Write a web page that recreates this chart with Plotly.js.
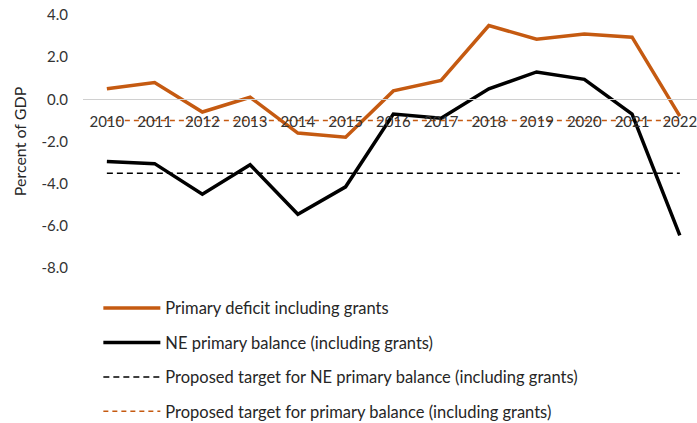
<!DOCTYPE html>
<html><head><meta charset="utf-8">
<script src="https://cdn.plot.ly/plotly-3.0.1.min.js"></script>
<style>html,body{margin:0;padding:0;background:#fff}</style>
</head><body>
<div id="chart" style="width:697px;height:423px"></div>
<script>
const years = [2010,2011,2012,2013,2014,2015,2016,2017,2018,2019,2020,2021,2022];
const primaryDeficit = [0.5,0.8,-0.6,0.1,-1.6,-1.8,0.4,0.9,3.5,2.85,3.1,2.95,-0.8];
const nePrimaryBalance = [-2.95,-3.05,-4.5,-3.1,-5.45,-4.15,-0.7,-0.9,0.5,1.3,0.95,-0.7,-6.45];
const neTarget = [-3.5,-3.5,-3.5,-3.5,-3.5,-3.5,-3.5,-3.5,-3.5,-3.5,-3.5,-3.5,-3.5];
const pbTarget = [-1.0,-1.0,-1.0,-1.0,-1.0,-1.0,-1.0,-1.0,-1.0,-1.0,-1.0,-1.0,-1.0];
const yTickVals = [-8,-6,-4,-2,0,2,4];
const yTickText = ['-8.0','-6.0','-4.0','-2.0','0.0','2.0','4.0'];
const seriesNames = [
  'Primary deficit including grants',
  'NE primary balance (including grants)',
  'Proposed target for NE primary balance (including grants)',
  'Proposed target for primary balance (including grants)'
];
const orange = '#C55A11';
const traces = [
  {x: years, y: pbTarget, name: seriesNames[3], mode:'lines', line:{color:orange, width:1.5, dash:'5px,4px'}, legendgroup:'d', legendrank:4},
  {x: years, y: neTarget, name: seriesNames[2], mode:'lines', line:{color:'#000', width:1.5, dash:'6px,4px'}, legendgroup:'c', legendrank:3},
  {x: years, y: nePrimaryBalance, name: seriesNames[1], mode:'lines', line:{color:'#000', width:3.5}, legendgroup:'b', legendrank:2},
  {x: years, y: primaryDeficit, name: seriesNames[0], mode:'lines', line:{color:orange, width:3.5}, legendgroup:'a', legendrank:1}
];
const layout = {
  width: 697, height: 423,
  margin: {l:83, r:0, t:15, b:155, autoexpand:false},
  paper_bgcolor:'#fff', plot_bgcolor:'#fff',
  font: {family:'Lato, "Open Sans", sans-serif', color:'#333', size:15},
  showlegend: true,
  legend: {x:0.025, y:-0.09, xanchor:'left', yanchor:'top', orientation:'v',
    traceorder:'grouped', tracegroupgap:10, itemwidth:57,
    font:{size:16.5, color:'#262626'}},
  xaxis: {
    range:[2009.5, 2022.36], tickmode:'array', tickvals: years, ticktext: years.map(String),
    anchor:'free', position: 8/12, showgrid:false, zeroline:false,
    showline:true, linecolor:'#d0d0d0', linewidth:1,
    ticks:'', ticklabelstandoff: 9, ticklabeloverflow:'allow',
    tickfont:{size:15, color:'#333'}, automargin:false
  },
  yaxis: {
    range:[-8,4], tickmode:'array', tickvals: yTickVals, ticktext: yTickText,
    showgrid:false, zeroline:false,
    showline:false, ticks:'', ticklabelstandoff: 14,
    tickfont:{size:15, color:'#333'}, automargin:false,
    title:{text:'Percent of GDP', font:{size:16, color:'#262626'}, standoff: 10}
  }
};
Plotly.newPlot('chart', traces, layout, {displayModeBar:false, staticPlot:true});
</script>
</body></html>
